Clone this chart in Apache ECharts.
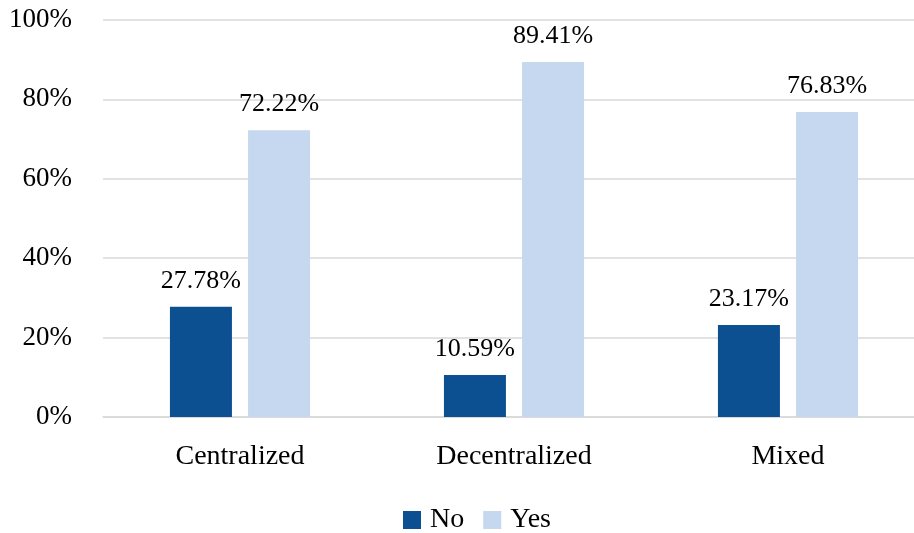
<!DOCTYPE html>
<html>
<head>
<meta charset="utf-8">
<script src="https://cdn.jsdelivr.net/npm/echarts@6/dist/echarts.min.js"></script>
<style>
  html, body { margin: 0; padding: 0; background: #fff; }
  #chart { width: 914px; height: 533px; }
</style>
</head>
<body>
<div id="chart"></div>
<script>
// Share of answers per organisation model
const categories = ['Centralized', 'Decentralized', 'Mixed'];
const noValues = [27.78, 10.59, 23.17];
const yesValues = [72.22, 89.41, 76.83];
const seriesNames = ['No', 'Yes'];

const FONT = '"Liberation Serif", "Times New Roman", serif';
const TEXT = '#000000';

const chart = echarts.init(document.getElementById('chart'));

const labelStyle = {
  show: true,
  position: 'top',
  distance: 13,
  fontFamily: FONT,
  fontSize: 26,
  color: TEXT,
  formatter: p => p.value.toFixed(2) + '%'
};

chart.setOption({
  animation: false,
  backgroundColor: '#ffffff',
  grid: {
    left: 103, top: 20, width: 822, height: 397,
    containLabel: false, outerBoundsMode: 'none'
  },
  legend: {
    data: seriesNames,
    bottom: -1,
    left: 403,
    padding: 0,
    itemWidth: 18,
    itemHeight: 18,
    itemGap: 19,
    icon: 'rect',
    textStyle: { fontFamily: FONT, fontSize: 28, color: TEXT, padding: [0, 0, 0, 4] }
  },
  xAxis: {
    type: 'category',
    data: categories,
    axisLine: { show: true, lineStyle: { color: '#d9d9d9', width: 1.5 } },
    axisTick: { show: false },
    axisLabel: { fontFamily: FONT, fontSize: 28, color: TEXT, margin: 26 }
  },
  yAxis: {
    type: 'value',
    min: 0,
    max: 100,
    interval: 20,
    axisLine: { show: false },
    axisTick: { show: false },
    splitLine: { lineStyle: { color: '#d9d9d9', width: 1.5 } },
    axisLabel: {
      fontFamily: FONT, fontSize: 27, color: TEXT, margin: 31,
      formatter: v => v + '%'
    }
  },
  series: [
    {
      name: seriesNames[0],
      type: 'bar',
      data: noValues,
      barWidth: 62,
      barGap: '26%',
      itemStyle: { color: '#0d5091' },
      label: labelStyle
    },
    {
      name: seriesNames[1],
      type: 'bar',
      data: yesValues,
      barWidth: 62,
      itemStyle: { color: '#c5d8ef' },
      label: labelStyle
    }
  ]
});
</script>
</body>
</html>
